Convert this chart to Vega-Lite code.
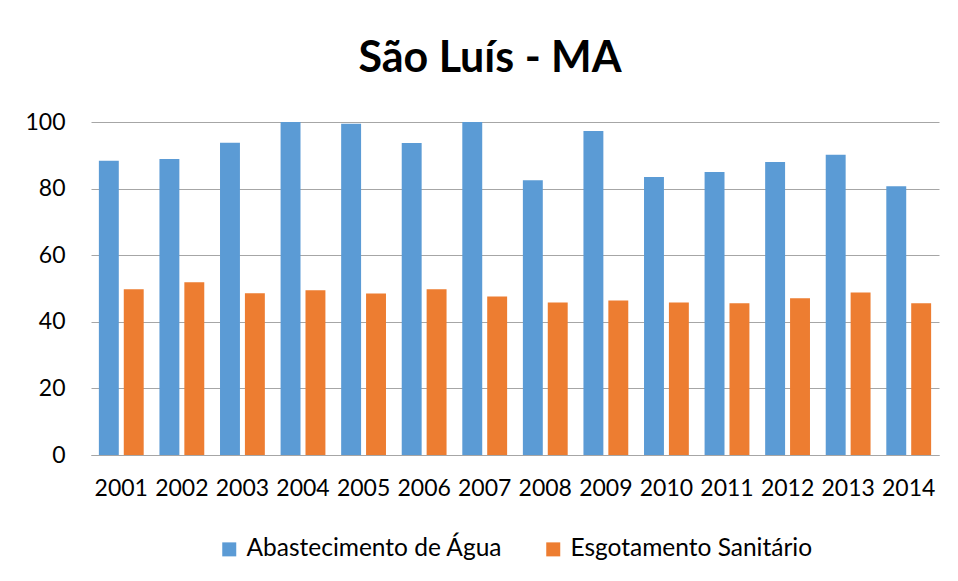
{
  "$schema": "https://vega.github.io/schema/vega-lite/v6.json",
  "width": 848,
  "height": 333,
  "autosize": "none",
  "padding": {"left": 91, "top": 122, "right": 19, "bottom": 126},
  "background": "white",
  "title": {
    "text": "São Luís - MA",
    "font": "Lato",
    "fontSize": 43,
    "fontWeight": "bold",
    "color": "#000000",
    "anchor": "middle",
    "frame": "group",
    "baseline": "alphabetic",
    "offset": -4,
    "dx": -25
  },
  "data": {
    "values": [
      {"ano": "2001", "serie": "Abastecimento de Água", "valor": 88.4},
      {"ano": "2001", "serie": "Esgotamento Sanitário", "valor": 49.8},
      {"ano": "2002", "serie": "Abastecimento de Água", "valor": 88.9},
      {"ano": "2002", "serie": "Esgotamento Sanitário", "valor": 51.9},
      {"ano": "2003", "serie": "Abastecimento de Água", "valor": 93.8},
      {"ano": "2003", "serie": "Esgotamento Sanitário", "valor": 48.6},
      {"ano": "2004", "serie": "Abastecimento de Água", "valor": 100},
      {"ano": "2004", "serie": "Esgotamento Sanitário", "valor": 49.5},
      {"ano": "2005", "serie": "Abastecimento de Água", "valor": 99.5},
      {"ano": "2005", "serie": "Esgotamento Sanitário", "valor": 48.5},
      {"ano": "2006", "serie": "Abastecimento de Água", "valor": 93.7},
      {"ano": "2006", "serie": "Esgotamento Sanitário", "valor": 49.8},
      {"ano": "2007", "serie": "Abastecimento de Água", "valor": 100},
      {"ano": "2007", "serie": "Esgotamento Sanitário", "valor": 47.6},
      {"ano": "2008", "serie": "Abastecimento de Água", "valor": 82.5},
      {"ano": "2008", "serie": "Esgotamento Sanitário", "valor": 45.8},
      {"ano": "2009", "serie": "Abastecimento de Água", "valor": 97.3},
      {"ano": "2009", "serie": "Esgotamento Sanitário", "valor": 46.4},
      {"ano": "2010", "serie": "Abastecimento de Água", "valor": 83.5},
      {"ano": "2010", "serie": "Esgotamento Sanitário", "valor": 45.8},
      {"ano": "2011", "serie": "Abastecimento de Água", "valor": 85.0},
      {"ano": "2011", "serie": "Esgotamento Sanitário", "valor": 45.6},
      {"ano": "2012", "serie": "Abastecimento de Água", "valor": 88.0},
      {"ano": "2012", "serie": "Esgotamento Sanitário", "valor": 47.1},
      {"ano": "2013", "serie": "Abastecimento de Água", "valor": 90.2},
      {"ano": "2013", "serie": "Esgotamento Sanitário", "valor": 48.8},
      {"ano": "2014", "serie": "Abastecimento de Água", "valor": 80.7},
      {"ano": "2014", "serie": "Esgotamento Sanitário", "valor": 45.6}
    ]
  },
  "mark": {"type": "bar"},
  "encoding": {
    "x": {
      "field": "ano",
      "type": "nominal",
      "scale": {"paddingInner": 0.26, "paddingOuter": 0.13},
      "axis": {
        "title": null,
        "labelAngle": 0,
        "labelFont": "Lato",
        "labelFontSize": 23,
        "labelColor": "#000000",
        "labelPadding": 22,
        "ticks": false,
        "domainColor": "#a6a6a6",
        "domainWidth": 1
      }
    },
    "xOffset": {
      "field": "serie",
      "type": "nominal",
      "sort": ["Abastecimento de Água", "Esgotamento Sanitário"],
      "scale": {"paddingInner": 0.2, "paddingOuter": 0}
    },
    "y": {
      "field": "valor",
      "type": "quantitative",
      "scale": {"domain": [0, 100], "nice": false},
      "axis": {
        "title": null,
        "values": [0, 20, 40, 60, 80, 100],
        "labelFont": "Lato",
        "labelFontSize": 23,
        "labelColor": "#000000",
        "labelPadding": 26,
        "ticks": false,
        "domain": false,
        "gridColor": "#a6a6a6",
        "gridWidth": 1
      }
    },
    "color": {
      "field": "serie",
      "type": "nominal",
      "sort": ["Abastecimento de Água", "Esgotamento Sanitário"],
      "scale": {"domain": ["Abastecimento de Água", "Esgotamento Sanitário"], "range": ["#5B9BD5", "#ED7D31"]},
      "legend": {
        "title": null,
        "orient": "bottom",
        "direction": "horizontal",
        "symbolType": "square",
        "symbolSize": 196,
        "symbolStrokeWidth": 0,
        "labelFont": "Lato",
        "labelFontSize": 24.5,
        "labelColor": "#000000",
        "labelLimit": 400,
        "columnPadding": 38,
        "labelOffset": 5,
        "offset": 37
      }
    }
  },
  "config": {
    "view": {"stroke": null},
    "legend": {"layout": {"bottom": {"anchor": "middle"}}}
  }
}
